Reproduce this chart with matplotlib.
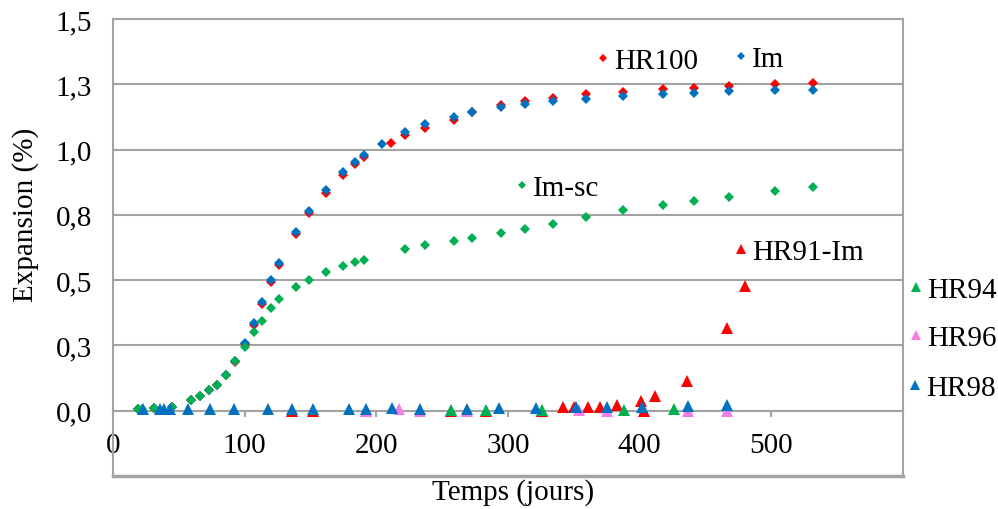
import matplotlib
matplotlib.use("Agg")
import matplotlib.pyplot as plt
from matplotlib.lines import Line2D

# --- data (days, expansion %) ---
t_hr100 = [19, 31, 45, 59, 66, 73, 79, 86, 93, 100, 107, 113, 120, 126, 139, 149,
           162, 175, 184, 191, 211, 222, 237, 259, 273, 295, 313, 334, 359, 387,
           418, 441, 468, 503, 532]
y_hr100 = [0.005, 0.010, 0.016, 0.040, 0.055, 0.078, 0.099, 0.136, 0.186, 0.255,
           0.330, 0.410, 0.494, 0.558, 0.678, 0.756, 0.835, 0.903, 0.944, 0.970,
           1.025, 1.054, 1.082, 1.114, 1.145, 1.171, 1.187, 1.199, 1.212, 1.222,
           1.232, 1.235, 1.243, 1.250, 1.254]

t_im = [19, 31, 45, 59, 66, 73, 79, 86, 93, 100, 107, 113, 120, 126, 139, 149,
        162, 175, 184, 191, 204, 222, 237, 259, 273, 295, 313, 334, 359, 387,
        418, 441, 468, 503, 532]
y_im = [0.005, 0.010, 0.016, 0.041, 0.056, 0.079, 0.100, 0.138, 0.190, 0.260,
        0.337, 0.416, 0.499, 0.564, 0.684, 0.764, 0.846, 0.913, 0.954, 0.980,
        1.022, 1.069, 1.098, 1.124, 1.145, 1.162, 1.175, 1.186, 1.194, 1.207,
        1.213, 1.217, 1.224, 1.230, 1.230]

t_imsc = [19, 22, 31, 45, 59, 66, 73, 79, 86, 93, 100, 107, 113, 120, 126, 139,
          149, 162, 175, 184, 191, 222, 237, 259, 273, 295, 313, 334, 359, 387,
          418, 441, 468, 503, 532]
y_imsc = [0.005, 0.005, 0.010, 0.016, 0.041, 0.056, 0.079, 0.100, 0.138, 0.189,
          0.244, 0.301, 0.343, 0.393, 0.426, 0.475, 0.501, 0.531, 0.554, 0.569,
          0.579, 0.620, 0.633, 0.649, 0.661, 0.679, 0.697, 0.716, 0.740, 0.769,
          0.788, 0.804, 0.820, 0.843, 0.857]

t_hr91 = [136, 152, 192, 257, 283, 326, 342, 350, 361, 370, 383, 401, 403, 412,
          436, 466, 480]
y_hr91 = [0.0, 0.0, 0.0, 0.0, 0.0, 0.0, 0.014, 0.014, 0.014, 0.014, 0.023, 0.039,
          0.0, 0.055, 0.115, 0.316, 0.478]

t_hr94 = [257, 283, 326, 388, 426]
y_hr94 = [0.003, 0.003, 0.002, 0.004, 0.008]

t_hr96 = [192, 217, 233, 269, 354, 375, 437, 466]
y_hr96 = [0.0, 0.007, 0.0, 0.0, 0.004, 0.0, 0.0, 0.0]

t_hr98 = [23, 36, 39, 43, 57, 74, 92, 118, 136, 152, 179, 192, 212, 233, 269, 293,
          321, 352, 375, 402, 437, 466]
y_hr98 = [0.005, 0.005, 0.005, 0.005, 0.005, 0.005, 0.005, 0.005, 0.005, 0.005,
          0.007, 0.007, 0.009, 0.007, 0.007, 0.009, 0.010, 0.014, 0.014, 0.016,
          0.018, 0.020]

y_ticks = [0.0, 0.25, 0.5, 0.75, 1.0, 1.25, 1.5]
y_tick_labels = ["0,0", "0,3", "0,5", "0,8", "1,0", "1,3", "1,5"]
x_ticks = [0, 100, 200, 300, 400, 500]

RED = "#ff0000"
BLUE = "#0070c0"
GREEN = "#00b050"
PINK = "#f37ee6"
GRID = "#a3a3a3"
FONT = "Liberation Serif"
FS = 21

plt.rcParams["font.family"] = FONT

W, H = 998, 510
fig = plt.figure(figsize=(W / 100, H / 100), dpi=100)
ax = fig.add_axes([113 / W, 1 - 477 / H, 790 / W, 457 / H])

# series: (name, times, values, marker, color, size)
series = [
    ("HR100", t_hr100, y_hr100, "D", RED, 4.8),
    ("Im", t_im, y_im, "D", BLUE, 4.8),
    ("Im-sc", t_imsc, y_imsc, "D", GREEN, 4.8),
    ("HR91-Im", t_hr91, y_hr91, "^", RED, 8),
    ("HR94", t_hr94, y_hr94, "^", GREEN, 8),
    ("HR96", t_hr96, y_hr96, "^", PINK, 8),
    ("HR98", t_hr98, y_hr98, "^", BLUE, 8),
]
for name, t, y, m, c, ms in series:
    ax.plot(t, y, ls="none", marker=m, color=c, ms=ms, mew=0, zorder=3)

ax.set_xlim(0, 600)
ax.set_ylim(-0.25, 1.5)

ax.set_yticks(y_ticks)
ax.set_yticklabels(y_tick_labels)
ax.set_xticks(x_ticks)
ax.set_xticklabels([str(v) for v in x_ticks])

ax.yaxis.grid(True, color=GRID, lw=1.5)
ax.set_axisbelow(True)

ax.spines["bottom"].set_position(("data", 0))
for s in ax.spines.values():
    s.set_color(GRID)
    s.set_linewidth(1.5)
# frame border below the zero axis
ax.axhline(-0.25, color=GRID, lw=2.5, clip_on=False)

ax.tick_params(axis="y", length=0, pad=15, labelsize=FS)
ax.tick_params(axis="x", length=4.5, width=1.5, color=GRID, direction="out",
               pad=11, labelsize=FS)

fig.text(26 / W, 1 - 215 / H, "Expansion (%)", rotation=90, ha="center",
         va="center", fontsize=FS)
fig.text(513 / W, 1 - 493 / H, "Temps (jours)", ha="center", va="center",
         fontsize=FS)

# floating legend keys: marker centre in pixels
key_pos = {
    "HR100": (603, 62),
    "Im": (741, 60),
    "Im-sc": (522, 189),
    "HR91-Im": (741, 253),
    "HR94": (916, 291),
    "HR96": (916, 339),
    "HR98": (915, 389),
}
key_ms = {"D": 4.2, "^": 6.5}
hl = 0.45
for name, t, y, m, c, ms in series:
    px, py = key_pos[name]
    h = Line2D([], [], ls="none", marker=m, color=c, ms=key_ms[m], mew=0)
    x0 = px - hl * FS * 100 / 72 / 2
    fig.legend([h], [name], loc="center left",
               bbox_to_anchor=(x0 / W, 1 - py / H), frameon=False,
               borderpad=0, borderaxespad=0, handlelength=hl,
               handletextpad=0.15, fontsize=FS, numpoints=1)

fig.savefig("out.png", dpi=100)
